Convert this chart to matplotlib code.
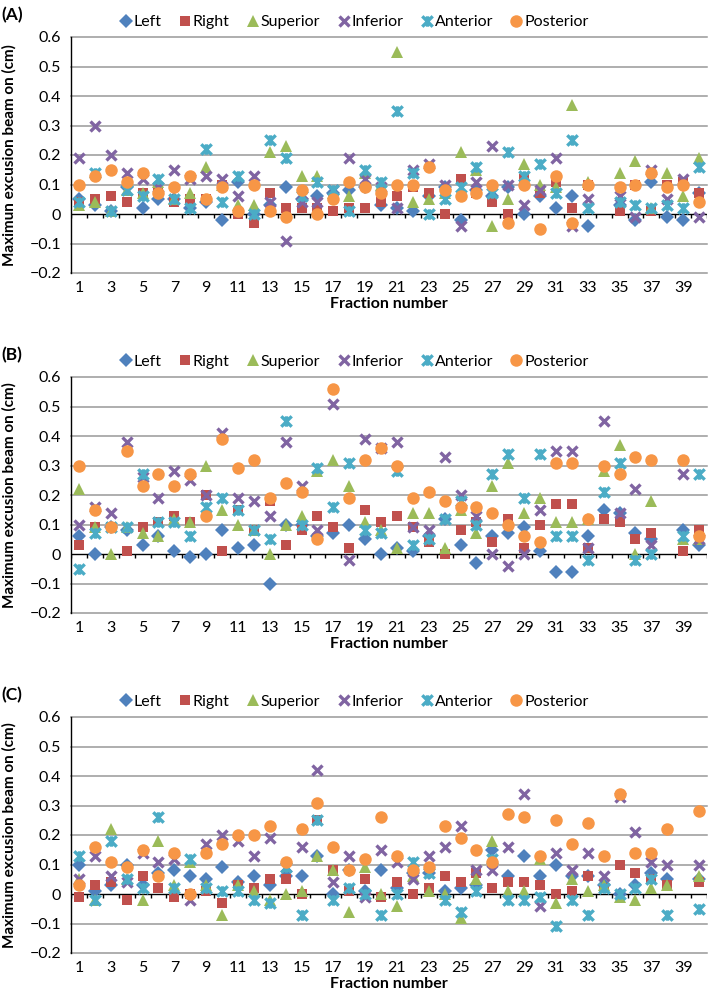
import numpy as np
import matplotlib
matplotlib.use("Agg")
import matplotlib.pyplot as plt
from matplotlib.path import Path

plt.rcParams['font.family'] = ['Lato', 'DejaVu Sans']

fractions = list(range(1, 41))
series_names = ["Left", "Right", "Superior", "Inferior", "Anterior", "Posterior"]

# panel A (None = fraction not recorded)
a_left = [0.05, 0.03, 0.01, 0.09, 0.02, 0.05, 0.05, 0.02, 0.04, -0.02, 0.11, 0.0, 0.03, 0.09, 0.05, 0.06, 0.07, 0.08, 0.09, 0.03,
          0.02, 0.01, 0.06, 0.09, -0.02, 0.08, 0.06, 0.09, 0.0, 0.06, 0.02, 0.06, -0.04, None, 0.03, -0.02, 0.11, -0.01, -0.02, 0.07]
a_right = [0.04, 0.05, 0.06, 0.04, 0.07, 0.08, 0.04, 0.05, 0.05, 0.10, 0.0, -0.03, 0.07, 0.02, 0.02, 0.02, 0.01, 0.02, 0.02, 0.04,
           0.06, 0.09, 0.07, 0.0, 0.12, 0.07, 0.04, 0.0, 0.12, 0.07, 0.11, 0.02, 0.10, None, 0.01, 0.10, 0.01, 0.10, 0.11, 0.07]
a_sup = [0.03, 0.04, 0.01, 0.08, 0.07, 0.11, 0.05, 0.07, 0.16, 0.10, 0.03, 0.03, 0.21, 0.23, 0.13, 0.13, 0.07, 0.06, 0.14, 0.10,
         0.55, 0.04, 0.05, 0.07, 0.21, 0.15, -0.04, 0.05, 0.17, 0.10, 0.09, 0.37, 0.11, None, 0.14, 0.18, 0.02, 0.14, 0.06, 0.19]
a_inf = [0.19, 0.30, 0.20, 0.14, 0.12, 0.09, 0.15, 0.12, 0.13, 0.12, 0.06, 0.13, 0.04, -0.09, 0.04, 0.04, 0.08, 0.19, 0.12, 0.09,
         0.02, 0.15, 0.17, 0.10, -0.04, 0.11, 0.23, 0.10, 0.03, 0.08, 0.19, -0.04, 0.05, None, 0.06, -0.01, 0.15, 0.05, 0.12, -0.01]
a_ant = [0.04, 0.14, 0.01, 0.08, 0.06, 0.12, 0.05, 0.02, 0.22, 0.04, 0.13, 0.0, 0.25, 0.19, 0.06, 0.11, 0.08, 0.01, 0.15, 0.11,
         0.35, 0.14, 0.0, 0.05, 0.09, 0.16, 0.07, 0.21, 0.13, 0.17, 0.07, 0.25, 0.02, None, 0.04, 0.03, 0.02, 0.03, 0.02, 0.16]
a_post = [0.10, 0.13, 0.15, 0.11, 0.14, 0.07, 0.09, 0.13, 0.05, 0.09, 0.01, 0.10, 0.01, -0.01, 0.08, 0.0, 0.05, 0.11, 0.09, 0.07,
          0.10, 0.10, 0.16, 0.08, 0.06, 0.07, 0.10, -0.03, 0.10, -0.05, 0.13, -0.03, 0.10, None, 0.09, 0.10, 0.14, 0.09, 0.10, 0.04]

# panel B
b_left = [0.06, 0.0, 0.09, 0.08, 0.03, 0.06, 0.01, -0.01, 0.0, 0.08, 0.02, 0.03, -0.10, 0.10, 0.10, 0.06, 0.07, 0.10, 0.05, 0.0,
          0.02, 0.01, 0.06, 0.12, 0.03, -0.03, 0.06, 0.07, 0.09, 0.01, -0.06, -0.06, 0.06, 0.15, 0.14, 0.07, 0.05, None, 0.08, 0.03]
b_right = [0.03, 0.09, 0.09, 0.01, 0.09, 0.11, 0.13, 0.11, 0.20, 0.01, 0.15, 0.08, 0.18, 0.03, 0.08, 0.13, 0.09, 0.02, 0.15, 0.11,
           0.13, 0.09, 0.04, 0.0, 0.08, 0.11, 0.04, 0.12, 0.02, 0.10, 0.17, 0.17, 0.02, 0.12, 0.11, 0.05, 0.07, None, 0.01, 0.08]
b_sup = [0.22, 0.09, 0.0, 0.09, 0.07, 0.06, 0.12, 0.11, 0.30, 0.15, 0.10, 0.08, 0.0, 0.10, 0.13, 0.28, 0.32, 0.23, 0.11, 0.08,
         0.02, 0.14, 0.14, 0.02, 0.15, 0.07, 0.23, 0.31, 0.14, 0.19, 0.11, 0.11, 0.12, 0.28, 0.37, 0.0, 0.18, None, 0.05, 0.05]
b_inf = [0.10, 0.16, 0.14, 0.38, 0.26, 0.19, 0.28, 0.25, 0.20, 0.41, 0.19, 0.18, 0.13, 0.38, 0.23, 0.08, 0.51, -0.02, 0.39, 0.36,
         0.38, 0.09, 0.08, 0.33, 0.20, 0.13, 0.0, -0.04, 0.0, 0.15, 0.35, 0.35, 0.02, 0.45, 0.14, 0.22, 0.03, None, 0.27, 0.05]
b_ant = [-0.05, 0.07, 0.09, 0.09, 0.27, 0.11, 0.11, 0.06, 0.16, 0.19, 0.15, 0.08, 0.05, 0.45, 0.10, 0.29, 0.16, 0.31, 0.08, 0.07,
         0.28, 0.03, 0.05, 0.12, 0.18, 0.10, 0.27, 0.34, 0.19, 0.34, 0.06, 0.06, -0.02, 0.21, 0.31, -0.02, 0.0, None, 0.06, 0.27]
b_post = [0.30, 0.15, 0.09, 0.35, 0.23, 0.27, 0.23, 0.27, 0.13, 0.39, 0.29, 0.32, 0.19, 0.24, 0.21, 0.05, 0.56, 0.19, 0.32, 0.36,
          0.30, 0.19, 0.21, 0.18, 0.16, 0.16, 0.14, 0.10, 0.06, 0.04, 0.31, 0.31, 0.12, 0.30, 0.27, 0.33, 0.32, None, 0.32, 0.06]

# panel C
c_left = [0.10, 0.01, 0.03, 0.10, 0.03, 0.07, 0.08, 0.06, 0.05, 0.09, 0.04, 0.06, 0.03, 0.06, 0.06, 0.13, 0.0, 0.08, 0.01, 0.08,
          0.02, 0.07, 0.07, 0.01, 0.02, 0.03, 0.15, 0.06, 0.13, 0.06, 0.10, 0.06, 0.06, 0.03, 0.0, 0.03, 0.07, 0.05, None, 0.05]
c_right = [-0.01, 0.03, 0.04, -0.02, 0.06, 0.02, -0.01, 0.0, 0.01, -0.03, 0.03, 0.02, 0.05, 0.05, 0.0, 0.25, 0.08, 0.01, 0.05, -0.01,
           0.04, 0.0, 0.02, 0.06, 0.04, 0.07, 0.02, 0.04, 0.04, 0.03, 0.0, 0.01, 0.06, 0.02, 0.10, 0.07, 0.05, 0.03, None, 0.04]
c_sup = [0.05, -0.02, 0.22, 0.05, -0.02, 0.18, 0.03, 0.11, 0.03, -0.07, 0.03, 0.01, -0.02, 0.0, 0.01, 0.13, 0.08, -0.06, 0.09, 0.0,
         -0.04, 0.06, 0.01, 0.0, -0.08, 0.05, 0.18, 0.01, 0.01, 0.12, -0.03, 0.05, 0.01, 0.03, -0.01, -0.02, 0.02, 0.03, None, 0.06]
c_inf = [0.05, 0.13, 0.06, 0.04, 0.14, 0.11, 0.12, -0.02, 0.17, 0.20, 0.18, 0.13, 0.19, 0.09, 0.16, 0.42, 0.04, 0.13, -0.01, 0.15,
         0.11, 0.05, 0.13, 0.16, 0.23, 0.08, 0.08, 0.16, 0.34, -0.04, 0.14, 0.08, 0.14, 0.06, 0.33, 0.21, 0.11, 0.10, None, 0.10]
c_ant = [0.13, -0.02, 0.18, 0.05, 0.02, 0.26, 0.02, 0.12, 0.02, 0.01, 0.01, -0.02, -0.03, 0.09, -0.07, 0.25, -0.02, 0.02, 0.0, -0.07,
         0.0, 0.11, 0.07, -0.02, -0.06, 0.01, 0.12, -0.02, -0.02, -0.01, -0.11, -0.02, -0.07, 0.02, 0.0, 0.02, 0.05, -0.07, None, -0.05]
c_post = [0.03, 0.16, 0.11, 0.09, 0.15, 0.06, 0.14, 0.0, 0.14, 0.17, 0.20, 0.20, 0.23, 0.11, 0.22, 0.31, 0.16, 0.08, 0.12, 0.26,
          0.13, 0.08, 0.09, 0.23, 0.19, 0.15, 0.11, 0.27, 0.26, 0.13, 0.25, 0.17, 0.24, 0.13, 0.34, 0.14, 0.14, 0.22, None, 0.28]

yticks = [-0.2, -0.1, 0.0, 0.1, 0.2, 0.3, 0.4, 0.5, 0.6]

# excel "star" marker: an x with a vertical bar
star = Path([(-1, -1), (1, 1), (-1, 1), (1, -1), (0, -1), (0, 1)],
            [Path.MOVETO, Path.LINETO, Path.MOVETO, Path.LINETO, Path.MOVETO, Path.LINETO])

styles = [
    dict(marker='D', color='#4F81BD', ms=7.5, mew=0),
    dict(marker='s', color='#C0504D', ms=7.8, mew=0),
    dict(marker='^', color='#9BBB59', ms=8.5, mew=0),
    dict(marker='x', color='#8064A2', ms=7.5, mew=2.4),
    dict(marker=star, color='#4BACC6', ms=7.5, mew=2.4),
    dict(marker='o', color='#F79646', ms=9, mew=0),
]

W, H = 709, 1007
fig = plt.figure(figsize=(W / 100, H / 100), dpi=100)


def draw_panel(top_px, label, ylabel, values):
    bottom_px = top_px + 236
    ax = fig.add_axes([71 / W, 1 - bottom_px / H, 636 / W, 236 / H])
    x = np.array(fractions)
    handles = []
    for name, vals, st in zip(series_names, values, styles):
        y = np.array(vals, dtype=float)
        h, = ax.plot(x, y, linestyle='none', marker=st['marker'], color=st['color'],
                     markersize=st['ms'], markeredgewidth=st['mew'], label=name, zorder=3)
        handles.append(h)

    ax.set_xlim(0.5, len(fractions) + 0.5)
    ax.set_ylim(-0.2, 0.6)
    ax.set_yticks(yticks)
    ax.set_yticklabels(["0" if v == 0 else f"{v:.1f}".replace("-", "\u2212") for v in yticks])
    ax.set_xticks(fractions[::2])
    ax.set_xticklabels([str(f) for f in fractions[::2]])
    ax.tick_params(axis='both', length=0, labelsize=11.5)
    ax.tick_params(axis='y', pad=7)
    ax.tick_params(axis='x', pad=6)

    for v in yticks:
        if v != 0:
            ax.axhline(v, color='#999999', lw=1.1, zorder=1, clip_on=False)
    ax.axhline(0, color='black', lw=1, zorder=1.5)
    ax.vlines(np.arange(0.5, len(fractions) + 1), -0.013, 0, color='black', lw=1, zorder=1.5)

    for s in ['top', 'right', 'bottom']:
        ax.spines[s].set_visible(False)
    ax.spines['left'].set_color('black')
    ax.spines['left'].set_linewidth(1)

    ax.set_ylabel(ylabel, fontsize=11, fontweight='bold')
    ax.yaxis.set_label_coords(-0.086, 0.5)
    ax.set_xlabel("Fraction number", fontsize=11.5, fontweight='bold')
    ax.xaxis.set_label_coords(0.5, -0.1)

    ax.legend(handles=handles, loc='center', bbox_to_anchor=(0.5, 1 - (top_px - 15) / H),
              bbox_transform=fig.transFigure, ncol=6, frameon=False, fontsize=11.5,
              handlelength=0.7, handletextpad=0.15, columnspacing=1.1, borderpad=0)
    fig.text(0.002, 1 - (top_px - 22) / H, label, fontsize=12.5, fontweight='bold', va='center', ha='left')
    return ax


draw_panel(37, "(A)", "Maximun excusion beam on (cm)", [a_left, a_right, a_sup, a_inf, a_ant, a_post])
draw_panel(377, "(B)", "Maximum excusion beam on (cm)", [b_left, b_right, b_sup, b_inf, b_ant, b_post])
draw_panel(717, "(C)", "Maximum excusion beam on (cm)", [c_left, c_right, c_sup, c_inf, c_ant, c_post])

fig.savefig("out.png", dpi=100)
